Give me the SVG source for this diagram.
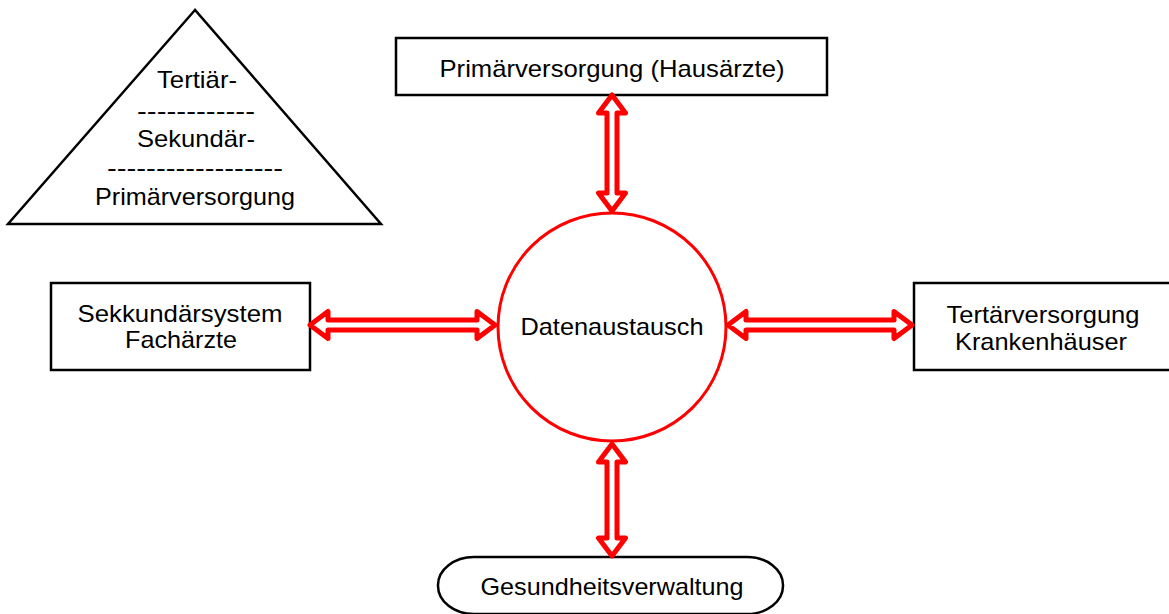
<svg xmlns="http://www.w3.org/2000/svg" width="1169" height="614" viewBox="0 0 1169 614">
  <style>
    .box { fill: #ffffff; stroke: #000000; stroke-width: 2.5; }
    .hub { fill: #ffffff; stroke: #ff0000; stroke-width: 3; }
    .lbl { font-family: "Liberation Sans", Arial, sans-serif; font-size: 24px; fill: #000000; text-anchor: middle; }
    .arrow { fill: #ffffff; stroke: #ff0000; stroke-width: 5; stroke-linejoin: round; }
  </style>

  <!-- care levels pyramid -->
  <g id="pyramid">
    <polygon class="box" points="195,10 8,224 381,224" stroke-width="2"/>
    <text class="lbl" x="197" y="88" textLength="80" lengthAdjust="spacingAndGlyphs">Tertiär-</text>
    <text class="lbl" x="196" y="119" textLength="118" lengthAdjust="spacingAndGlyphs">------------</text>
    <text class="lbl" x="196" y="147" textLength="118" lengthAdjust="spacingAndGlyphs">Sekundär-</text>
    <text class="lbl" x="195" y="176" textLength="176" lengthAdjust="spacingAndGlyphs">------------------</text>
    <text class="lbl" x="195" y="205" textLength="200" lengthAdjust="spacingAndGlyphs">Primärversorgung</text>
  </g>

  <!-- central data exchange hub -->
  <g id="hub">
    <circle class="hub" cx="612" cy="327" r="114"/>
    <text class="lbl" x="612" y="335" textLength="183" lengthAdjust="spacingAndGlyphs">Datenaustausch</text>
  </g>

  <!-- primary care -->
  <g id="primary">
    <rect class="box" x="396" y="38" width="431" height="57"/>
    <text class="lbl" x="612" y="77" textLength="345" lengthAdjust="spacingAndGlyphs">Primärversorgung (Hausärzte)</text>
  </g>

  <!-- secondary care -->
  <g id="secondary">
    <rect class="box" x="51" y="283" width="259" height="87"/>
    <text class="lbl" x="180" y="322" textLength="205" lengthAdjust="spacingAndGlyphs">Sekkundärsystem</text>
    <text class="lbl" x="181" y="348" textLength="112" lengthAdjust="spacingAndGlyphs">Fachärzte</text>
  </g>

  <!-- tertiary care -->
  <g id="tertiary">
    <rect class="box" x="914" y="283" width="262" height="87"/>
    <text class="lbl" x="1043" y="323" textLength="193" lengthAdjust="spacingAndGlyphs">Tertärversorgung</text>
    <text class="lbl" x="1041" y="350" textLength="172" lengthAdjust="spacingAndGlyphs">Krankenhäuser</text>
  </g>

  <!-- health administration -->
  <g id="administration">
    <rect class="box" x="438" y="557" width="345" height="57" rx="36" ry="28" stroke-width="2"/>
    <text class="lbl" x="612" y="595" textLength="263" lengthAdjust="spacingAndGlyphs">Gesundheitsverwaltung</text>
  </g>

  <!-- hollow double-headed connectors -->
  <g id="connectors">
    <!-- hub to primary care (vertical, top) -->
    <polygon class="arrow" points="612,95 625.5,113 617,113 617,193 625.5,193 612,211 598.5,193 607,193 607,113 598.5,113"/>
    <!-- hub to administration (vertical, bottom) -->
    <polygon class="arrow" points="612,444 625.5,462 617,462 617,538 625.5,538 612,556 598.5,538 607,538 607,462 598.5,462"/>
    <!-- hub to secondary care (horizontal, left) -->
    <polygon class="arrow" points="310,325 328,311.5 328,320 477,320 477,311.5 495,325 477,338.5 477,330 328,330 328,338.5"/>
    <!-- hub to tertiary care (horizontal, right) -->
    <polygon class="arrow" points="728,325 746,311.5 746,320 894,320 894,311.5 912,325 894,338.5 894,330 746,330 746,338.5"/>
  </g>
</svg>
